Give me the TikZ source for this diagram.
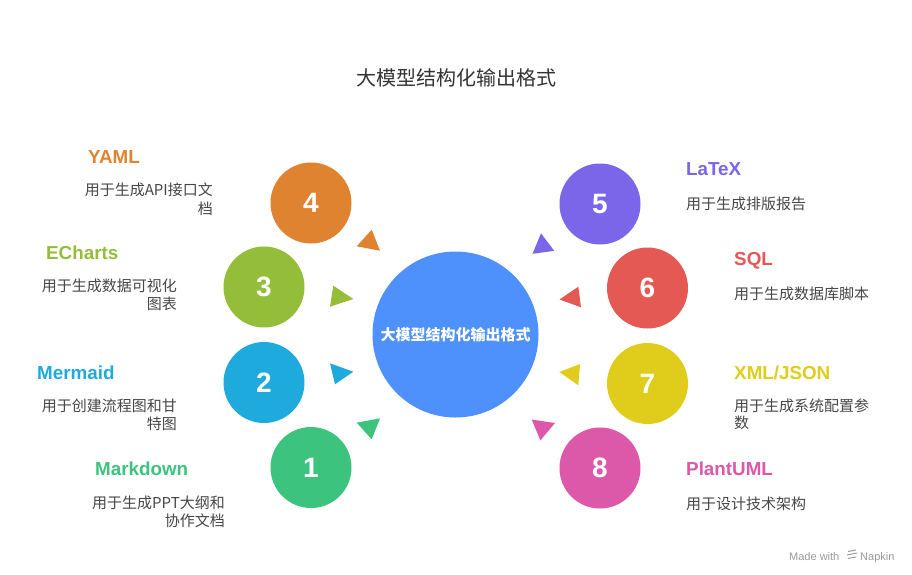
\documentclass[tikz,border=0pt]{standalone}
\usepackage{fontspec}
\setmainfont{Liberation Sans}
\newfontfamily\cjk{Noto Sans CJK SC}
\definecolor{cOrange}{HTML}{E08330}
\definecolor{cLime}{HTML}{94BE3A}
\definecolor{cSky}{HTML}{1EAADC}
\definecolor{cGreen}{HTML}{3CC47E}
\definecolor{cPurple}{HTML}{7B65E8}
\definecolor{cRed}{HTML}{E55954}
\definecolor{cYellow}{HTML}{E0CC1A}
\definecolor{cPink}{HTML}{DC58A8}
\definecolor{cCenter}{HTML}{4E91FD}
\definecolor{cText}{HTML}{474747}
\definecolor{cTitle}{HTML}{333333}
\definecolor{cMark}{HTML}{9A9A9A}
\begin{document}
\begin{tikzpicture}[x=1pt,y=-1pt,
  numcircle/.style={circle, minimum size=81pt, inner sep=0pt, text=white,
    font=\bfseries\fontsize{28}{28}\selectfont},
  hubcircle/.style={circle, minimum size=166pt, inner sep=0pt, fill=cCenter},
  ttl/.style={inner sep=0pt, font=\bfseries\fontsize{18.8}{20}\selectfont},
  dsc/.style={inner sep=0pt, text=cText, font=\cjk\fontsize{15}{19}\selectfont},
  tip/.style={draw=none}
]
\useasboundingbox (0,0) rectangle (912,574);
\fill[white] (0,0) rectangle (912,574);

% title
\node[inner sep=0pt, text=cTitle, font=\cjk\fontsize{20}{20}\selectfont] (title) at (456,78) {大模型结构化输出格式};

% hub
\node[hubcircle] (hub) at (455.5,334.5) {};
\node[inner sep=0pt, text=white, font=\cjk\bfseries\fontsize{15}{15}\selectfont] (hubtext) at (455.5,335) {大模型结构化输出格式};

% numbered circles
\node[numcircle, fill=cOrange] (c4) at (311,203) {4};
\node[numcircle, fill=cLime]   (c3) at (264,287) {3};
\node[numcircle, fill=cSky]    (c2) at (264,382.5) {2};
\node[numcircle, fill=cGreen]  (c1) at (311,467.5) {1};
\node[numcircle, fill=cPurple] (c5) at (600,204) {5};
\node[numcircle, fill=cRed]    (c6) at (647.5,288) {6};
\node[numcircle, fill=cYellow] (c7) at (647.5,383.5) {7};
\node[numcircle, fill=cPink]   (c8) at (600,468) {8};

% arrowheads pointing to hub
\fill[cOrange] (380,250.7) -- (356.7,246.3) -- (371.7,229.7) -- cycle;
\fill[cLime]   (353.3,299) -- (333.3,285.7) -- (330,306.7) -- cycle;
\fill[cSky]    (353.3,371.7) -- (330,363.3) -- (335,384.3) -- cycle;
\fill[cGreen]  (380,418.3) -- (356.7,422.7) -- (371.7,439.3) -- cycle;
\fill[cPurple] (532.5,253.8) -- (541,233.3) -- (554.2,250.8) -- cycle;
\fill[cRed]    (559.5,299.5) -- (578.3,286.7) -- (581,307.3) -- cycle;
\fill[cYellow] (559.3,372) -- (580,364) -- (578.3,385.3) -- cycle;
\fill[cPink]   (531.7,419.5) -- (555,423) -- (540.4,440.4) -- cycle;

% left labels
\node[ttl, text=cOrange, anchor=base west] (t4) at (88,163) {YAML};
\node[dsc, anchor=base east] (d4a) at (213,195) {用于生成API接口文};
\node[dsc, anchor=base east] (d4b) at (213,214) {档};

\node[ttl, text=cLime, anchor=base west] (t3) at (46,259) {ECharts};
\node[dsc, anchor=base east] (d3a) at (177,291) {用于生成数据可视化};
\node[dsc, anchor=base east] (d3b) at (177,309) {图表};

\node[ttl, text=cSky, anchor=base west] (t2) at (37,379) {Mermaid};
\node[dsc, anchor=base east] (d2a) at (177,411) {用于创建流程图和甘};
\node[dsc, anchor=base east] (d2b) at (177,429) {特图};

\node[ttl, text=cGreen, anchor=base west] (t1) at (95,475) {Markdown};
\node[dsc, anchor=base east] (d1a) at (225,508) {用于生成PPT大纲和};
\node[dsc, anchor=base east] (d1b) at (225,526) {协作文档};

% right labels
\node[ttl, text=cPurple, anchor=base west] (t5) at (686,175) {LaTeX};
\node[dsc, anchor=base west] (d5a) at (686,209) {用于生成排版报告};

\node[ttl, text=cRed, anchor=base west] (t6) at (734,265.5) {SQL};
\node[dsc, anchor=base west] (d6a) at (734,299) {用于生成数据库脚本};

\node[ttl, text=cYellow, anchor=base west] (t7) at (734,379) {XML/JSON};
\node[dsc, anchor=base west] (d7a) at (734,411) {用于生成系统配置参};
\node[dsc, anchor=base west] (d7b) at (734,428) {数};

\node[ttl, text=cPink, anchor=base west] (t8) at (686,475) {PlantUML};
\node[dsc, anchor=base west] (d8a) at (686,509) {用于设计技术架构};

% watermark
\node[inner sep=0pt, text=cMark, font=\fontsize{11}{11}\selectfont, anchor=base west] (mw) at (789,560) {Made with};
\draw[cMark, line width=1pt] (848,551.5) -- (856,550) (847,555) -- (857,553) (848,558.5) -- (856,557);
\node[inner sep=0pt, text=cMark, font=\fontsize{11}{11}\selectfont, anchor=base west] (np) at (860,560) {Napkin};
\end{tikzpicture}
\end{document}
